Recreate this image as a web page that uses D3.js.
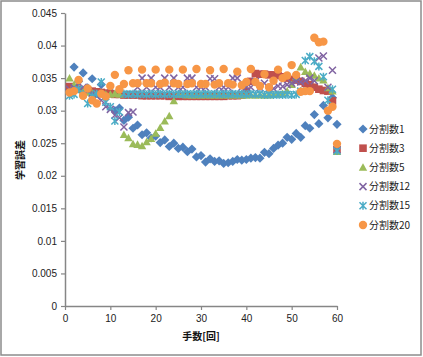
<!DOCTYPE html>
<html><head><meta charset="utf-8">
<script src="https://cdn.jsdelivr.net/npm/d3@7"></script>
<style>body{margin:0;background:#fff}svg{display:block}</style>
</head><body>
<svg id="c" width="423" height="357"></svg>
<script>
const rounds = d3.range(1, 61);
const xTicks = [0, 10, 20, 30, 40, 50, 60];
const yTicks = [0, 0.005, 0.01, 0.015, 0.02, 0.025, 0.03, 0.035, 0.04, 0.045];
const seriesNames = ["分割数1", "分割数3", "分割数5", "分割数12", "分割数15", "分割数20"];
const seriesColors = ["#4F81BD", "#C0504D", "#9BBB59", "#8064A2", "#4BACC6", "#F79646"];
const xTitle = "手数[回]";
const yTitle = "学習誤差";

const div1 = [0.0333,0.0367,0.0345,0.0358,0.0335,0.0349,0.0327,0.0340,0.0322,0.0330,
 0.0300,0.0304,0.0285,0.0290,0.0273,0.0278,0.0263,0.0266,0.0258,0.0261,
 0.0251,0.0255,0.0245,0.0250,0.0242,0.0244,0.0237,0.0241,0.0229,0.0231,
 0.0221,0.0226,0.0222,0.0223,0.0219,0.0220,0.0222,0.0225,0.0224,0.0225,
 0.0227,0.0228,0.0227,0.0236,0.0234,0.0242,0.0247,0.0250,0.0259,0.0256,
 0.0265,0.0259,0.0277,0.0273,0.0294,0.0280,0.0308,0.0289,0.0320,0.0279];
const div3 = [0.0337,0.0335,0.0333,0.0332,0.0331,0.0330,0.0329,0.0328,0.0327,0.0326,
 0.0325,0.0325,0.0324,0.0324,0.0324,0.0324,0.0323,0.0323,0.0323,0.0323,
 0.0323,0.0323,0.0322,0.0322,0.0322,0.0322,0.0322,0.0322,0.0322,0.0322,
 0.0322,0.0322,0.0322,0.0322,0.0322,0.0323,0.0323,0.0323,0.0324,0.0330,
 0.0345,0.0357,0.0356,0.0356,0.0355,0.0355,0.0354,0.0352,0.0350,0.0348,
 0.0347,0.0345,0.0342,0.0340,0.0336,0.0333,0.0331,0.0330,0.0315,0.0240];
const div5 = [0.0350,0.0340,0.0333,0.0330,0.0328,0.0327,0.0326,0.0326,0.0325,0.0325,0.0326,0.0325,
 0.0263,0.0258,0.0249,0.0248,0.0246,0.0252,0.0257,0.0265,0.0274,0.0284,0.0292,0.0315,
 0.0325,0.0325,0.0324,0.0324,0.0324,0.0324,0.0324,0.0324,0.0324,0.0324,0.0324,0.0324,
 0.0324,0.0324,0.0324,0.0324,0.0324,0.0324,0.0324,0.0324,0.0324,0.0325,0.0325,0.0326,
 0.0330,0.0340,0.0352,0.0367,0.0360,0.0357,0.0354,0.0350,0.0347,0.0335,0.0330,0.0237];
const div12 = [0.0333,0.0335,0.0333,0.0336,0.0330,0.0327,0.0322,0.0316,0.0306,0.0302,
 0.0293,0.0289,0.0275,0.0297,0.0298,0.0336,0.0350,0.0336,0.0350,0.0336,
 0.0336,0.0350,0.0336,0.0350,0.0336,0.0336,0.0350,0.0350,0.0336,0.0336,
 0.0336,0.0349,0.0349,0.0336,0.0336,0.0336,0.0350,0.0350,0.0336,0.0336,
 0.0336,0.0345,0.0335,0.0342,0.0334,0.0334,0.0338,0.0337,0.0340,0.0342,
 0.0345,0.0344,0.0346,0.0350,0.0346,0.0381,0.0384,0.0336,0.0362,0.0240];
const div15 = [0.0323,0.0325,0.0333,0.0326,0.0311,0.0322,0.0326,0.0344,0.0313,0.0306,
 0.0284,0.0298,0.0326,0.0325,0.0326,0.0325,0.0326,0.0325,0.0326,0.0325,
 0.0326,0.0325,0.0326,0.0325,0.0326,0.0325,0.0326,0.0325,0.0326,0.0325,
 0.0326,0.0325,0.0326,0.0325,0.0326,0.0325,0.0326,0.0325,0.0326,0.0325,
 0.0326,0.0325,0.0326,0.0324,0.0325,0.0324,0.0325,0.0324,0.0325,0.0324,
 0.0325,0.0330,0.0377,0.0383,0.0376,0.0368,0.0352,0.0316,0.0333,0.0238];
const div20 = [0.0328,0.0330,0.0347,0.0323,0.0334,0.0316,0.0311,0.0326,0.0322,0.0338,
 0.0355,0.0333,0.0341,0.0362,0.0342,0.0342,0.0363,0.0342,0.0342,0.0363,
 0.0341,0.0343,0.0363,0.0342,0.0341,0.0363,0.0341,0.0342,0.0364,0.0341,
 0.0341,0.0362,0.0340,0.0342,0.0364,0.0342,0.0340,0.0360,0.0339,0.0344,
 0.0364,0.0344,0.0338,0.0356,0.0336,0.0346,0.0363,0.0350,0.0354,0.0370,
 0.0355,0.0329,0.0330,0.0330,0.0412,0.0405,0.0406,0.0300,0.0306,0.0249];

const allSeries = [div1, div3, div5, div12, div15, div20];
const shapes = ["diamond", "square", "triangle", "x", "star", "circle"];

const svg = d3.select("#c");
svg.append("rect").attr("x", 1).attr("y", 1).attr("width", 420).attr("height", 354)
  .attr("fill", "#fff").attr("stroke", "#8c8c8c").attr("stroke-width", 1.5);

const x = d3.scaleLinear().domain([0, 60]).range([65, 337]);
const y = d3.scaleLinear().domain([0, 0.045]).range([306, 13]);

const font = "'Liberation Sans', Arial, 'Noto Sans CJK JP', sans-serif";
const cjk = "'Noto Sans CJK JP', sans-serif";

const yAxis = svg.append("g").attr("transform", "translate(65,0)")
  .call(d3.axisLeft(y).tickValues(yTicks).tickSize(4).tickSizeOuter(0)
    .tickFormat(d => d === 0 ? "0" : String(+d.toFixed(3))));
const xAxis = svg.append("g").attr("transform", "translate(0,306)")
  .call(d3.axisBottom(x).tickValues(xTicks).tickSize(4).tickSizeOuter(0));
[xAxis, yAxis].forEach(g => {
  g.select(".domain").attr("stroke", "#868686").attr("stroke-width", 1.5);
  g.selectAll(".tick line").attr("stroke", "#868686").attr("stroke-width", 1.2);
  g.selectAll("text").attr("fill", "#222").style("font-family", font).style("font-size", "10px");
});
yAxis.selectAll("text").attr("x", -8);
xAxis.selectAll("text").attr("y", 9);

function shapePath(s, cx, cy) {
  const p = d3.path();
  if (s === "diamond") { const r = 4.6; p.moveTo(cx, cy - r); p.lineTo(cx + r, cy); p.lineTo(cx, cy + r); p.lineTo(cx - r, cy); p.closePath(); }
  else if (s === "square") { const r = 3.8; p.rect(cx - r, cy - r, 2 * r, 2 * r); }
  else if (s === "triangle") { const r = 4.2; p.moveTo(cx, cy - r); p.lineTo(cx + r, cy + r * 0.8); p.lineTo(cx - r, cy + r * 0.8); p.closePath(); }
  else if (s === "x") { const r = 3.5; p.moveTo(cx - r, cy - r); p.lineTo(cx + r, cy + r); p.moveTo(cx + r, cy - r); p.lineTo(cx - r, cy + r); }
  else if (s === "star") { const r = 3.5; p.moveTo(cx - r, cy - r); p.lineTo(cx + r, cy + r); p.moveTo(cx + r, cy - r); p.lineTo(cx - r, cy + r); p.moveTo(cx, cy - r - 0.5); p.lineTo(cx, cy + r + 0.5); }
  else { p.arc(cx, cy, 4.2, 0, 2 * Math.PI); }
  return p.toString();
}
function styleMark(sel, i) {
  const s = shapes[i];
  if (s === "x" || s === "star") sel.attr("fill", "none").attr("stroke", seriesColors[i]).attr("stroke-width", 1.5);
  else sel.attr("fill", seriesColors[i]).attr("stroke", "none");
}

allSeries.forEach((vals, i) => {
  const g = svg.append("g");
  g.selectAll("path").data(vals).join("path")
    .attr("d", (v, j) => shapePath(shapes[i], x(rounds[j]), y(v)))
    .call(styleMark, i);
});

// legend
const lg = svg.append("g");
seriesNames.forEach((n, i) => {
  const cy = 129 + i * 19.2;
  lg.append("path").attr("d", shapePath(shapes[i], 363, cy)).call(styleMark, i);
  lg.append("text").attr("x", 369).attr("y", cy + 3.5).text(n)
    .attr("fill", "#222").style("font-family", cjk).style("font-size", "10px");
});

svg.append("text").attr("x", 201).attr("y", 340).attr("text-anchor", "middle")
  .text(xTitle).attr("fill", "#111").style("font-family", cjk).style("font-size", "10px").style("font-weight", "bold");
svg.append("text").attr("transform", "translate(24,160) rotate(-90)").attr("text-anchor", "middle")
  .text(yTitle).attr("fill", "#111").style("font-family", cjk).style("font-size", "10px").style("font-weight", "bold");
</script>
</body></html>
